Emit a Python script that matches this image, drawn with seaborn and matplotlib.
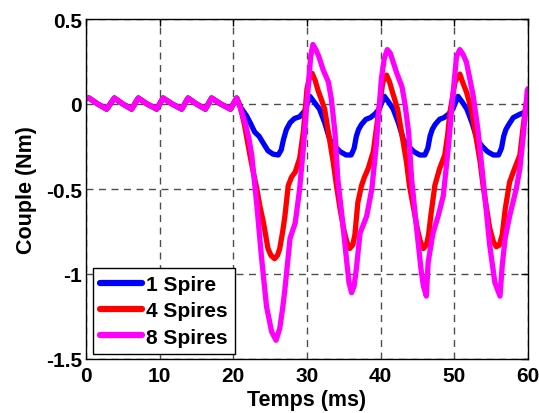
import numpy as np
import pandas as pd
import matplotlib
matplotlib.use("Agg")
import matplotlib.pyplot as plt
import seaborn as sns
from matplotlib.ticker import FixedLocator, FixedFormatter

# ---- data ----
series_names = ["1 Spire", "4 Spires", "8 Spires"]
series_colors = ["#0000ff", "#ff0000", "#ff00ff"]

# common start (0-20 ms), all three curves overlap
t_pre = [0.0, 0.4, 1.6, 2.8, 3.85, 5.0, 6.2, 7.1, 8.3, 9.6, 10.45, 11.7, 13.0,
         13.85, 15.0, 16.2, 17.05, 18.3, 19.6, 20.45]
v_pre = [0.03, 0.035, 0.0, -0.03, 0.035, 0.0, -0.03, 0.035, 0.0, -0.03, 0.035,
         0.0, -0.03, 0.035, 0.0, -0.03, 0.035, 0.0, -0.03, 0.035]

t_1spire = [21.0, 21.8, 22.4, 22.9, 23.5, 24.2, 24.7, 25.4, 26.1, 26.5, 26.8, 27.2,
            27.7, 28.3, 29.0, 29.7, 30.4, 31.0, 31.7, 32.4, 33.1, 33.8, 34.5, 35.3,
            36.0, 36.4, 36.7, 37.0, 37.4, 38.0, 38.6, 39.2, 39.8, 40.5, 41.1, 41.7,
            42.4, 43.1, 43.8, 44.5, 45.3, 46.0, 46.4, 46.7, 47.0, 47.4, 48.0, 48.6,
            49.2, 49.8, 50.5, 51.1, 51.7, 52.4, 53.1, 53.8, 54.5, 55.3, 56.0, 56.4,
            56.7, 57.0, 57.4, 58.0, 58.9, 59.5, 60.0]
v_1spire = [-0.02, -0.07, -0.12, -0.165, -0.19, -0.24, -0.275, -0.295, -0.30, -0.27,
            -0.21, -0.15, -0.11, -0.085, -0.075, -0.04, 0.045, 0.01, -0.03, -0.11,
            -0.21, -0.25, -0.28, -0.30, -0.30, -0.26, -0.19, -0.15, -0.12, -0.09,
            -0.08, -0.06, -0.03, 0.045, 0.01, -0.03, -0.11, -0.21, -0.25, -0.28,
            -0.30, -0.30, -0.26, -0.19, -0.15, -0.12, -0.09, -0.08, -0.06, -0.03,
            0.045, 0.01, -0.03, -0.11, -0.21, -0.25, -0.28, -0.30, -0.30, -0.26,
            -0.19, -0.15, -0.12, -0.08, -0.06, -0.05, -0.01]

t_4spires = [20.9, 21.5, 22.25, 22.7, 23.2, 23.6, 24.1, 24.7, 25.1, 25.6, 26.0, 26.3,
             26.7, 27.0, 27.45, 27.9, 28.4, 29.0, 29.5, 30.0, 30.35, 30.7, 31.1, 31.5,
             32.0, 32.4, 33.1, 33.55, 34.0, 34.5, 35.0, 35.4, 35.8, 36.2, 36.5, 36.9,
             37.4, 37.8, 38.3, 39.0, 39.4, 39.7, 40.3, 40.8, 41.2, 41.6, 42.3, 43.0,
             43.5, 43.9, 44.5, 45.0, 45.4, 45.8, 46.2, 46.5, 46.8, 47.35, 48.0, 48.7,
             49.1, 49.4, 50.1, 50.75, 51.2, 51.65, 52.3, 53.0, 53.5, 53.9, 54.4, 54.8,
             55.3, 55.7, 56.1, 56.5, 56.9, 57.5, 58.0, 58.9, 59.3, 59.7, 60.0]
v_4spires = [-0.01, -0.12, -0.30, -0.40, -0.50, -0.60, -0.70, -0.85, -0.89, -0.91,
             -0.89, -0.85, -0.75, -0.66, -0.48, -0.43, -0.40, -0.32, -0.165, 0.09,
             0.16, 0.18, 0.14, 0.08, 0.02, -0.03, -0.22, -0.34, -0.48, -0.62, -0.74,
             -0.81, -0.85, -0.83, -0.77, -0.58, -0.48, -0.43, -0.38, -0.28, -0.15,
             -0.05, 0.13, 0.17, 0.13, 0.07, -0.03, -0.21, -0.34, -0.48, -0.62, -0.74,
             -0.81, -0.85, -0.83, -0.77, -0.66, -0.48, -0.38, -0.30, -0.18, -0.05,
             0.13, 0.176, 0.12, 0.07, -0.03, -0.21, -0.34, -0.48, -0.62, -0.73, -0.81,
             -0.84, -0.83, -0.77, -0.62, -0.46, -0.40, -0.30, -0.15, -0.01, 0.05]

t_8spires = [21.0, 21.6, 22.1, 22.5, 23.2, 23.8, 24.5, 25.2, 25.8, 26.3, 26.7, 27.0,
             27.7, 28.4, 29.0, 29.5, 30.15, 30.5, 30.8, 31.2, 31.6, 32.2, 32.9, 33.3,
             33.8, 34.2, 34.7, 35.4, 35.7, 36.05, 36.4, 36.7, 37.2, 38.1, 38.8, 39.4,
             40.1, 40.5, 40.9, 41.3, 41.6, 42.2, 42.9, 43.3, 43.8, 44.2, 44.8, 45.5,
             45.8, 46.2, 46.45, 47.1, 47.8, 48.5, 49.2, 49.8, 50.3, 50.75, 51.2, 51.65,
             52.55, 53.2, 53.9, 54.8, 55.5, 56.2, 56.5, 56.9, 57.5, 58.4, 58.9, 59.4,
             59.9, 60.0]
v_8spires = [-0.03, -0.11, -0.20, -0.30, -0.60, -0.89, -1.19, -1.34, -1.39, -1.32,
             -1.20, -1.09, -0.79, -0.70, -0.50, -0.26, 0.09, 0.28, 0.35, 0.32, 0.28,
             0.20, 0.13, 0.03, -0.17, -0.45, -0.64, -0.93, -1.05, -1.11, -1.07, -0.97,
             -0.76, -0.66, -0.50, -0.245, 0.15, 0.27, 0.32, 0.30, 0.26, 0.18, 0.10,
             0.0, -0.17, -0.44, -0.70, -0.98, -1.07, -1.13, -0.93, -0.76, -0.66, -0.54,
             -0.25, 0.05, 0.28, 0.32, 0.29, 0.245, 0.05, -0.15, -0.44, -0.83, -1.05,
             -1.13, -0.95, -0.79, -0.66, -0.50, -0.38, -0.17, 0.08, 0.09]

x_ticks = [0, 10, 20, 30, 40, 50, 60]
y_ticks = [-1.5, -1, -0.5, 0, 0.5]
y_tick_labels = ["-1.5", "-1", "-0.5", "0", "0.5"]

# ---- build table ----
frames = []
for name, tt, vv in zip(series_names,
                        [t_1spire, t_4spires, t_8spires],
                        [v_1spire, v_4spires, v_8spires]):
    frames.append(pd.DataFrame({"t": t_pre + tt, "v": v_pre + vv, "serie": name}))
df = pd.concat(frames, ignore_index=True)

sns.set_style("white")
plt.rcParams["font.family"] = ["Liberation Sans", "DejaVu Sans"]
plt.rcParams["font.weight"] = "bold"
plt.rcParams["text.color"] = "black"
plt.rcParams["axes.labelcolor"] = "black"
plt.rcParams["xtick.color"] = "black"
plt.rcParams["ytick.color"] = "black"

fig = plt.figure(figsize=(5.39, 4.14), dpi=100)
ax = fig.add_axes([86 / 539, 54 / 414, 442 / 539, 340 / 414])

sns.lineplot(data=df, x="t", y="v", hue="serie", hue_order=series_names,
             palette=series_colors, sort=False, estimator=None, units="serie",
             linewidth=3.8, ax=ax, solid_joinstyle="round", solid_capstyle="round")

ax.set_xlim(0, 60)
ax.set_ylim(-1.5, 0.5)
ax.xaxis.set_major_locator(FixedLocator(x_ticks))
ax.set_xticklabels([str(v) for v in x_ticks])
ax.yaxis.set_major_locator(FixedLocator(y_ticks))
ax.yaxis.set_major_formatter(FixedFormatter(y_tick_labels))
ax.tick_params(axis="both", which="major", labelsize=15, direction="in",
               length=5, width=1, color="black", labelcolor="black",
               top=True, right=True)
ax.tick_params(axis="x", pad=5)
ax.tick_params(axis="y", pad=3)
for lab in ax.get_xticklabels() + ax.get_yticklabels():
    lab.set_fontweight("bold")

ax.grid(True, linestyle=(0, (5, 4)), color="0.3", linewidth=1.0)
ax.set_axisbelow(True)
for sp in ax.spines.values():
    sp.set_visible(True)
    sp.set_color("black")
    sp.set_linewidth(1.0)

ax.set_xlabel("Temps (ms)", fontsize=15.5, fontweight="bold", labelpad=3,
              color="black")
ax.set_ylabel("Couple (Nm)", fontsize=15.5, fontweight="bold", labelpad=6,
              color="black")

leg = ax.legend(loc="lower left", bbox_to_anchor=(7 / 442, 5 / 340),
                borderaxespad=0, fontsize=15, frameon=True, fancybox=False,
                framealpha=1, edgecolor="black", handlelength=2.0,
                handletextpad=0.2, labelspacing=0.35, borderpad=0.35)
leg.get_frame().set_linewidth(1.0)
for txt in leg.get_texts():
    txt.set_fontweight("bold")
    txt.set_color("black")
for h in leg.get_lines():
    h.set_linewidth(4.5)

fig.savefig("out.png", dpi=100, facecolor="white")
